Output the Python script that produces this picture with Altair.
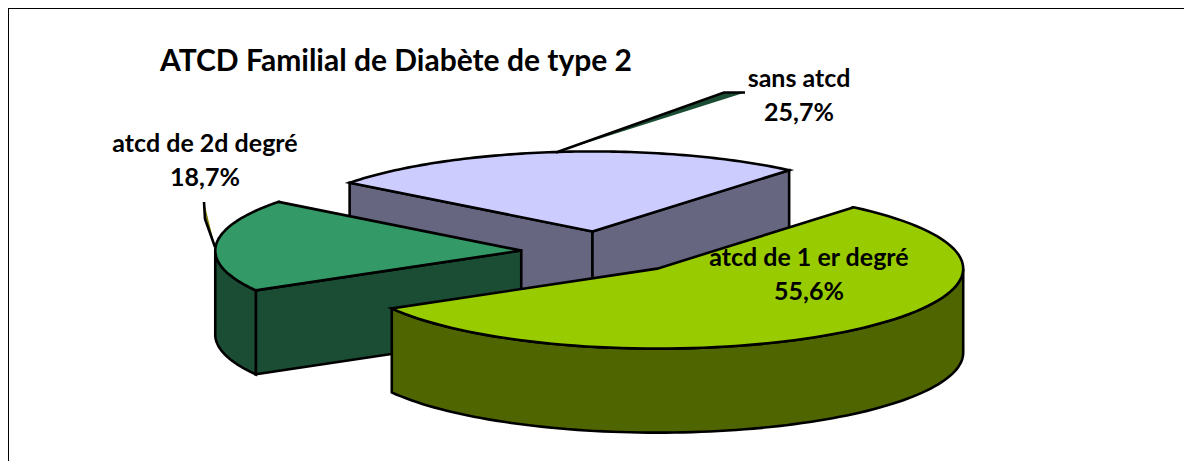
import math
import altair as alt
import pandas as pd

# Chart values
categories = ["atcd de 1 er degré", "sans atcd", "atcd de 2d degré"]
percents = [55.6, 25.7, 18.7]
percent_labels = ["55,6%", "25,7%", "18,7%"]
top_colors = ["#99CC00", "#CCCCFF", "#339966"]
side_colors = ["#4F6600", "#666680", "#1A4D33"]
title_text = "ATCD Familial de Diabète de type 2"

# Pie geometry, in the picture's coordinate system
center_x, center_y = 604, 252
radius_x, radius_y = 306, 80
depth = 84
explode = 0.271
first_angle = 50  # degrees; the first slice runs clockwise from here

label_x = [809, 799, 205]
label_y = [[258, 292], [79, 113], [144, 178]]
title_pos = (396, 62)
leader_1 = [(556, 152.5), (724, 92.5), (745, 92.5)]
leader_2 = [(204, 202), (205, 219), (215, 247)]
frame = [(1184, 8), (8, 8), (8, 461)]

# Slice angles from the values
total = sum(percents)
sweeps = [p / total * 360 for p in percents]
big_start = first_angle
big_end = first_angle - sweeps[0]
blue_start = first_angle
blue_end = first_angle + sweeps[1]
dark_start = blue_end
dark_end = dark_start + sweeps[2]


def pt(cx, cy, deg, dz=0):
    a = math.radians(deg)
    return cx + radius_x * math.cos(a), cy - radius_y * math.sin(a) + dz


def vertex(a0, a1):
    m = math.radians((a0 + a1) / 2)
    return (center_x + explode * radius_x * math.cos(m),
            center_y - explode * radius_y * math.sin(m))


def arc(cx, cy, a0, a1, dz=0, n=90):
    return [pt(cx, cy, a0 + (a1 - a0) * i / n, dz) for i in range(n + 1)]


rows = []


def add(name, color, pts):
    for i, (x, y) in enumerate(pts):
        rows.append({"shape": name, "i": i, "x": x, "y": y, "c": color})


def closed(pts):
    return pts + [pts[0], pts[1]]


# blue slice
vb0 = vertex(blue_start, blue_end)
vb = (vb0[0] - 2.5, vb0[1] + 1)
pa, pb = pt(*vb, blue_end), pt(*vb, blue_start)
add("01", side_colors[1], closed([pa, vb, (vb[0], vb[1] + depth), (pa[0], pa[1] + depth)]))
add("02", side_colors[1], closed([pb, vb, (vb[0], vb[1] + depth), (pb[0], pb[1] + depth)]))
add("03", top_colors[1], closed([vb] + arc(*vb, blue_start, blue_end)))

# dark green slice
vd = vertex(dark_start, dark_end)
pe = pt(*vd, dark_end)
add("04", side_colors[2], closed([vd, pe, (pe[0], pe[1] + depth), (vd[0], vd[1] + depth)]))
add("05", side_colors[2], closed(arc(*vd, 180, dark_end) + arc(*vd, dark_end, 180, depth)))
add("06", top_colors[2], closed([vd] + arc(*vd, dark_start, dark_end)))

# big green slice
vg = vertex(big_start, big_end)
add("07", side_colors[0], closed(arc(*vg, big_end + 360, 360) + arc(*vg, 360, big_end + 360, depth)))
add("08", top_colors[0], closed([vg] + arc(*vg, big_start, big_end)))

# leader lines, open so that the fill makes a thin wedge as in the source
add("09", "#1A4D33", leader_1)
add("10", "#808000", leader_2)

shapes = pd.DataFrame(rows)
x_scale = alt.Scale(domain=[10, 1184], nice=False, zero=False)
y_scale = alt.Scale(domain=[10, 461], nice=False, zero=False, reverse=True)
X = alt.X("x:Q", scale=x_scale, axis=None)
Y = alt.Y("y:Q", scale=y_scale, axis=None)

pie = alt.Chart(shapes).mark_line(
    stroke="black", strokeWidth=2.6, strokeJoin="miter", strokeCap="butt", clip=False
).encode(
    x=X, y=Y,
    fill=alt.Fill("c:N", scale=None),
    detail="shape:N",
    order="i:Q",
)

frame_df = pd.DataFrame({"x": [p[0] for p in frame], "y": [p[1] for p in frame],
                         "i": range(len(frame))})
frame_layer = alt.Chart(frame_df).mark_line(
    stroke="black", strokeWidth=2, strokeJoin="miter", clip=False
).encode(x=X, y=Y, order="i:Q")

texts = []
for c, p, lx, ly in zip(categories, percent_labels, label_x, label_y):
    texts.append({"x": lx, "y": ly[0], "t": c})
    texts.append({"x": lx, "y": ly[1], "t": p})
labels = alt.Chart(pd.DataFrame(texts)).mark_text(
    font="Lato", fontWeight="bold", fontSize=25, color="black", align="center", baseline="middle"
).encode(x=X, y=Y, text="t:N")

title = alt.Chart(pd.DataFrame({"x": [title_pos[0]], "y": [title_pos[1]], "t": [title_text]})).mark_text(
    font="Lato", fontWeight="bold", fontSize=30, color="black", align="center", baseline="middle"
).encode(x=X, y=Y, text="t:N")

chart = alt.layer(frame_layer, pie, labels, title).properties(
    width=1174, height=451,
    padding={"left": 2, "top": 2, "right": 0, "bottom": 0},
    background="white",
    autosize=alt.AutoSizeParams(type="none"),
).configure_view(stroke=None)

chart.save("out.html", embed_options={"renderer": "svg", "actions": False})
